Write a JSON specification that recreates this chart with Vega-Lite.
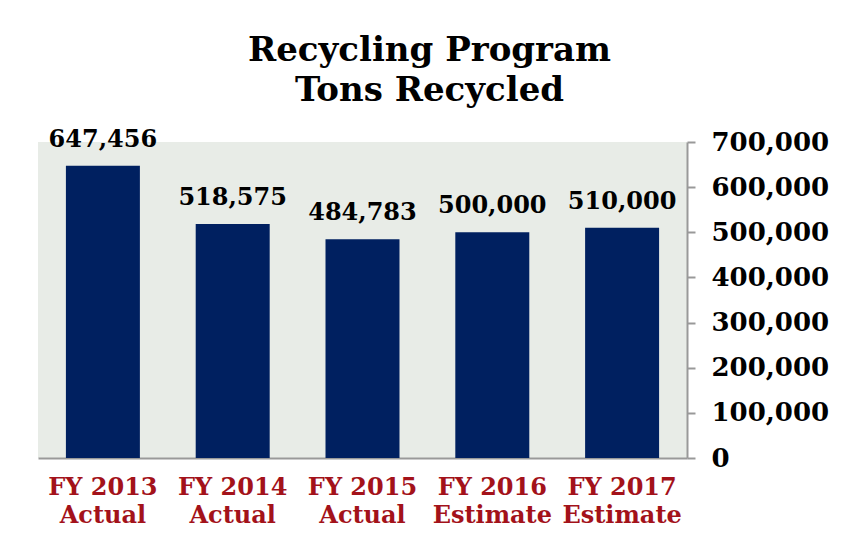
{
  "$schema": "https://vega.github.io/schema/vega-lite/v6.json",
  "autosize": "none",
  "width": 649,
  "height": 316,
  "padding": {"left": 38, "top": 142, "right": 157, "bottom": 88},
  "background": "white",
  "title": {
    "text": ["Recycling Program", "Tons Recycled"],
    "font": "DejaVu Serif",
    "fontSize": 34,
    "fontWeight": "bold",
    "color": "black",
    "anchor": "middle",
    "frame": "group",
    "dx": 67,
    "offset": 20,
    "lineHeight": 40
  },
  "config": {
    "view": {"stroke": null, "fill": "#e8ece7"},
    "font": "DejaVu Serif"
  },
  "data": {
    "values": [
      {"year": "FY 2013|Actual", "tons": 647456},
      {"year": "FY 2014|Actual", "tons": 518575},
      {"year": "FY 2015|Actual", "tons": 484783},
      {"year": "FY 2016|Estimate", "tons": 500000},
      {"year": "FY 2017|Estimate", "tons": 510000}
    ]
  },
  "encoding": {
    "x": {
      "field": "year",
      "type": "nominal",
      "sort": null,
      "scale": {"paddingInner": 0.43, "paddingOuter": 0.215},
      "axis": {
        "title": null,
        "labelAngle": 0,
        "labelExpr": "split(datum.label, '|')",
        "labelFont": "DejaVu Serif",
        "labelFontSize": 24,
        "labelFontWeight": "bold",
        "labelColor": "#a3121a",
        "labelLineHeight": 28,
        "labelPadding": 17,
        "labelBaseline": "top",
        "ticks": false,
        "domainColor": "#999999",
        "domainWidth": 2
      }
    },
    "y": {
      "field": "tons",
      "type": "quantitative",
      "scale": {"domain": [0, 700000], "nice": false},
      "axis": {
        "orient": "right",
        "title": null,
        "values": [0, 100000, 200000, 300000, 400000, 500000, 600000, 700000],
        "format": ",d",
        "grid": false,
        "labelFont": "DejaVu Serif",
        "labelFontSize": 26,
        "labelFontWeight": "bold",
        "labelColor": "black",
        "labelPadding": 16,
        "tickSize": 8,
        "tickColor": "#999999",
        "tickWidth": 2,
        "domainColor": "#999999",
        "domainWidth": 2
      }
    }
  },
  "layer": [
    {"mark": {"type": "bar", "color": "#002060"}},
    {
      "mark": {
        "type": "text",
        "baseline": "alphabetic",
        "dy": -19,
        "fontSize": 24,
        "fontWeight": "bold",
        "font": "DejaVu Serif",
        "color": "black"
      },
      "encoding": {"text": {"field": "tons", "type": "quantitative", "format": ",d"}}
    }
  ]
}
